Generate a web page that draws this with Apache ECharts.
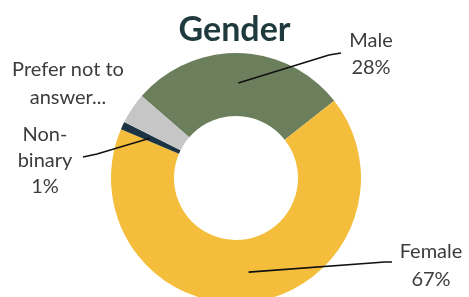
<!DOCTYPE html>
<html>
<head>
<meta charset="utf-8">
<script src="https://cdn.jsdelivr.net/npm/echarts@6/dist/echarts.min.js"></script>
<style>html,body{margin:0;padding:0;background:#fff;}#c{width:469px;height:297px;}</style>
</head>
<body>
<div id="c"></div>
<script>
const categories = ['Male', 'Female', 'Non-binary', 'Prefer not to answer...'];
const values = [28, 67, 1, 4];
const labelTexts = ['Male\n28%', 'Female\n67%', 'Non-\nbinary\n1%', 'Prefer not to\nanswer...'];
const colors = ['#6c7f5c', '#f4bd3c', '#1d3444', '#c6c6c6'];

const CX = 236, CY = 178, R0 = 62, R1 = 125, START = 139;
// label placement (style only)
const labelPos = [
  {x: 371, y: 54, lh: 27, bend: [329, 55], end: [341, 53]},
  {x: 431, y: 266, lh: 28, bend: [385, 262], end: [392, 262]},
  {x: 45, y: 161, lh: 26, bend: [97, 154], end: [83, 157]},
  {x: 68, y: 84, lh: 28}
];
const total = values.reduce((a, b) => a + b, 0);
function anchorFor(i) {
  let before = 0;
  for (let k = 0; k < i; k++) before += values[k];
  const startCompass = 90 - START;
  const mid = (startCompass + (before + values[i] / 2) / total * 360) * Math.PI / 180;
  const r = 95;
  return [CX + r * Math.sin(mid), CY - r * Math.cos(mid)];
}

const leaderLines = [];
labelPos.forEach((lp, i) => {
  if (!lp.bend) return;
  leaderLines.push({
    type: 'polyline', z: 100,
    shape: {points: [anchorFor(i), lp.bend, lp.end]},
    style: {stroke: '#111', lineWidth: 1.6, fill: null}
  });
});

const chart = echarts.init(document.getElementById('c'), null, {renderer: 'canvas'});
chart.setOption({
  backgroundColor: '#ffffff',
  animation: false,
  title: {
    text: 'Gender', left: 'center', top: 8,
    textStyle: {fontFamily: 'Lato', fontSize: 34, fontWeight: 'bold', color: '#1e3a3d'}
  },
  graphic: leaderLines,
  series: [{
    type: 'pie',
    center: [CX, CY],
    radius: [R0, R1],
    startAngle: START,
    clockwise: true,
    avoidLabelOverlap: false,
    minShowLabelAngle: 0,
    itemStyle: {borderWidth: 0},
    label: {
      show: true, position: 'outside',
      formatter: p => '{t|' + labelTexts[p.dataIndex].split('\n').join('}\n{t|') + '}',
      fontFamily: 'Lato', fontSize: 20, color: '#3c3c3c', align: 'center',
      rich: {t: {fontFamily: 'Lato', fontSize: 20, color: '#3c3c3c', align: 'center'}}
    },
    labelLine: {show: false},
    labelLayout: function (params) {
      const lp = labelPos[params.dataIndex];
      return {x: lp.x, y: lp.y, align: 'center', verticalAlign: 'middle'};
    },
    data: categories.map((c, i) => ({
      name: c, value: values[i],
      itemStyle: {color: colors[i]},
      label: {rich: {t: {lineHeight: labelPos[i].lh}}}
    }))
  }]
});
</script>
</body>
</html>
